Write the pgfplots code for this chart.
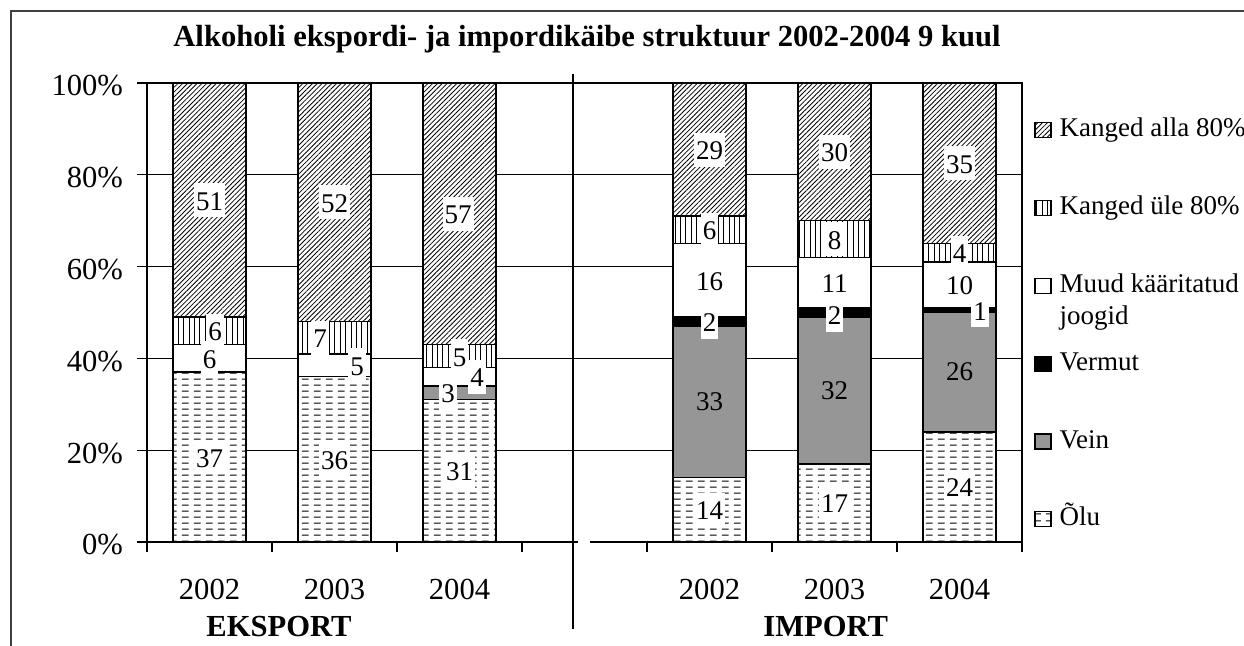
\documentclass[border=0pt]{standalone}
\usepackage{fontspec}
\setmainfont{Liberation Serif}
\usepackage{pgfplots}
\usepackage{pgfplotstable}
\pgfplotsset{compat=1.18}
\usetikzlibrary{patterns,patterns.meta}

\tikzdeclarepattern{
  name=hdash,
  type=uncolored,
  bounding box={(0pt,0pt) and (6pt,3.2pt)},
  tile size={(6pt,3.2pt)},
  code={\draw[line width=0.55pt] (1pt,1.6pt) -- (4.6pt,1.6pt);}
}

\definecolor{vein}{RGB}{150,150,150}
\definecolor{framec}{RGB}{64,64,64}

\pgfplotstableread{
x olu vein vermut muud yle alla
0 37 0 0 6 6 51
1 36 0 0 5 7 52
2 31 3 0 4 5 57
4 14 33 2 16 6 29
5 17 32 2 11 8 30
6 24 26 1 10 4 35
}\datatable

\pgfplotstableread{
x y lbl
0.044 46 6
0 40 6
0 74.5 51
0 18.5 37
0.884 44.5 7
1.18 38.5 5
1 74 52
1 18 36
1.988 71.5 57
2 40.5 5
2.14 36 4
1.908 32.5 3
2 15.5 31
4 85.5 29
4 68 6
4 57 16
4 48 2
4 7 14
5 85 30
5 66 8
5 56.5 11
5 49.5 2
5 8.5 17
6 82.5 35
6 63 4
6 56 10
6.164 50.5 1
6 12 24
}\labtable

\pgfplotstableread{
x y lbl
4 30.5 33
5 33 32
6 37 26
}\labtabnofill

\pgfplotsset{
  myleg/.style={legend image code/.code={\draw[##1,line width=0.6pt] (0pt,-3.75pt) rectangle (8pt,3.75pt);}},
}

\newcommand{\ticksize}{\fontsize{15.3}{18}\selectfont}
\newcommand{\lblsize}{\fontsize{13.5}{16}\selectfont}

\begin{document}
\begin{tikzpicture}
\useasboundingbox (0pt,0pt) rectangle (622pt,323pt);
\draw[line width=0.8pt, framec] (5.5pt,-10pt) -- (5.5pt,317.5pt) -- (640pt,317.5pt);
\node[font=\bfseries\fontsize{15.3}{18}\selectfont, anchor=base] at (293.5pt,299.5pt) {Alkoholi ekspordi- ja impordikäibe struktuur 2002-2004 9 kuul};

\begin{axis}[
  at={(73.5pt,52pt)}, anchor=south west,
  scale only axis, width=437.5pt, height=229.5pt,
  ybar stacked, bar width=36.5pt,
  xmin=-0.5, xmax=6.5, ymin=0, ymax=100,
  enlargelimits=false,
  xtick={0,1,2,4,5,6}, xticklabels={2002,2003,2004,2002,2003,2004},
  minor xtick={-0.5,0.5,...,6.5},
  ytick={0,20,...,100}, yticklabels={0\%,20\%,40\%,60\%,80\%,100\%},
  xtick pos=bottom, ytick pos=left,
  tick align=outside,
  major tick length=5pt, minor tick length=5pt,
  major x tick style={draw=none},
  minor x tick style={black, line width=0.6pt},
  y tick style={black, line width=0.6pt},
  ymajorgrids, y grid style={black, line width=0.5pt},
  tick label style={font=\ticksize},
  xticklabel style={yshift=-10pt},
  yticklabel style={xshift=-3.5pt, yshift=-1.5pt},
  axis line style={line width=0.6pt},
  clip=false,
  reverse legend,
  legend style={draw=none, fill=none, at={(1,1)}, anchor=north west,
    xshift=6pt, yshift=-17.25pt, inner sep=0pt, row sep=26.4pt,
    nodes={inner sep=0pt, text height=9.5pt, text depth=3pt, font=\lblsize},
    /tikz/every odd column/.style={column sep=4pt}},
  legend cell align=left,
]
\addplot[draw=black, line width=0.75pt, fill=white, postaction={pattern=hdash, pattern color=black}, myleg] table[x=x,y=olu]{\datatable};
\addlegendentry{Õlu}
\addplot[draw=black, line width=0.75pt, fill=vein, myleg] table[x=x,y=vein]{\datatable};
\addlegendentry{Vein}
\addplot[draw=black, line width=0.75pt, fill=black, myleg] table[x=x,y=vermut]{\datatable};
\addlegendentry{Vermut}
\addplot[draw=black, line width=0.75pt, fill=white, myleg] table[x=x,y=muud]{\datatable};
\addlegendentry{\begin{tabular}[t]{@{}l@{}}Muud kääritatud\\joogid\end{tabular}}
\addplot[draw=black, line width=0.75pt, fill=white, postaction={pattern={Lines[angle=90,distance=2.7pt,line width=0.5pt]}, pattern color=black}, myleg] table[x=x,y=yle]{\datatable};
\addlegendentry{Kanged üle 80\%}
\addplot[draw=black, line width=0.75pt, fill=white, postaction={pattern={Lines[angle=45,distance=1.7pt,line width=0.4pt]}, pattern color=black}, myleg] table[x=x,y=alla]{\datatable};
\addlegendentry{Kanged alla 80\%}

\draw[white, line width=1.6pt] (axis cs:2.95,0) -- (axis cs:3.04,0);
\draw[line width=0.6pt] (axis cs:2.908,102) -- (axis cs:2.908,-19);
\node[font=\bfseries\ticksize, anchor=base, yshift=-47.5pt] at (axis cs:0.556,0) {EKSPORT};
\node[font=\bfseries\ticksize, anchor=base, yshift=-47.5pt] at (axis cs:4.93,0) {IMPORT};
\end{axis}

\begin{axis}[
  at={(73.5pt,52pt)}, anchor=south west,
  scale only axis, width=437.5pt, height=229.5pt,
  xmin=-0.5, xmax=6.5, ymin=0, ymax=100,
  enlargelimits=false, hide axis, clip=false,
]
\addplot[draw=none, nodes near coords, point meta=explicit symbolic,
  nodes near coords style={anchor=center, fill=white, inner xsep=1pt, inner ysep=0pt, text height=13.5pt, text depth=3.5pt, font=\lblsize, text=black}]
  table[x=x,y=y,meta=lbl]{\labtable};
\addplot[draw=none, nodes near coords, point meta=explicit symbolic,
  nodes near coords style={anchor=center, inner xsep=1pt, inner ysep=0pt, font=\lblsize, text=black}]
  table[x=x,y=y,meta=lbl]{\labtabnofill};
\end{axis}
\end{tikzpicture}
\end{document}
